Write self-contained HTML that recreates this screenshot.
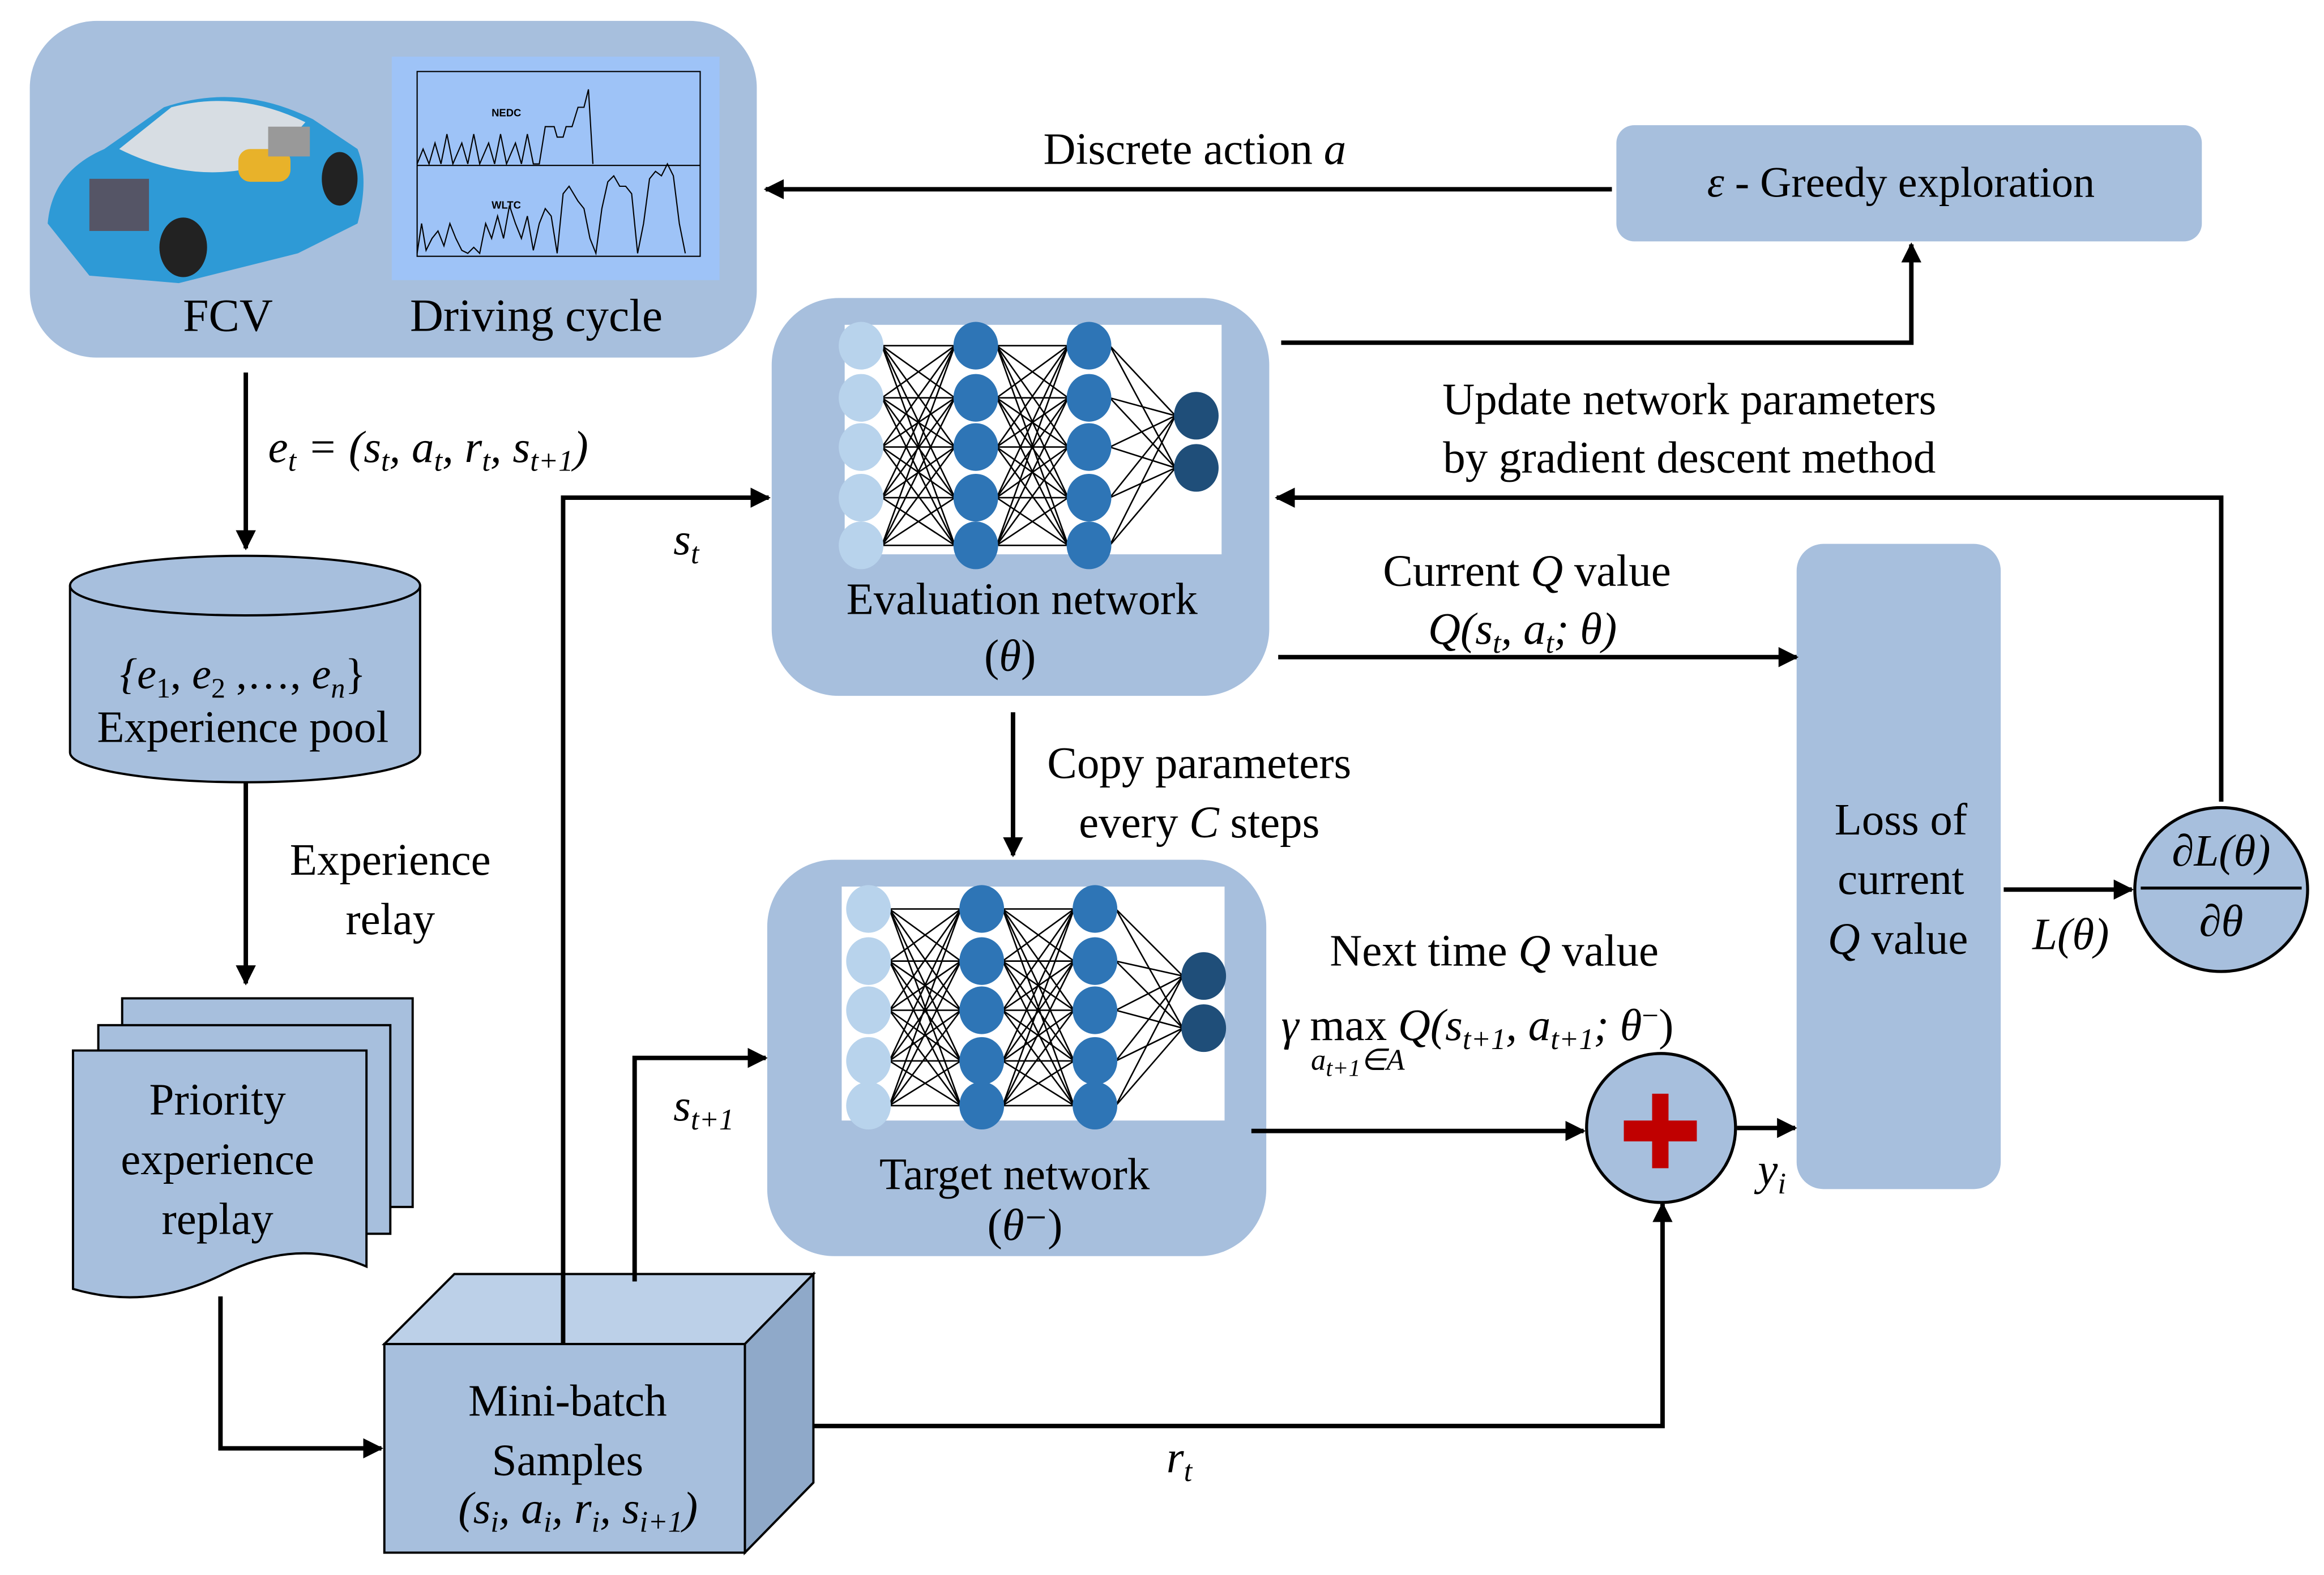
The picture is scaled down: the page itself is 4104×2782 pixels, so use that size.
<!DOCTYPE html>
<html><head><meta charset="utf-8">
<style>
html,body{margin:0;padding:0;background:#fff;}
svg{display:block;}
text{font-family:"Liberation Serif",serif;fill:#000;}
</style></head>
<body>
<svg id="s" width="4104" height="2782" viewBox="0 0 1560 1057" preserveAspectRatio="none" xmlns="http://www.w3.org/2000/svg">
<defs>
<marker id="ah" viewBox="0 0 10 10" refX="9" refY="5" markerWidth="4.5" markerHeight="4.5" orient="auto"><path d="M0,0 L10,5 L0,10 z" fill="#000"/></marker>
</defs>
<g fill="#a7bfdd">
<!-- FCV box -->
<rect x="20" y="14" width="488" height="226" rx="45"/>
<rect x="1085" y="84" width="393" height="78" rx="12"/>
<rect x="518" y="200" width="334" height="267" rx="45"/>
<rect x="515" y="577" width="335" height="266" rx="45"/>
<rect x="1206" y="365" width="137" height="433" rx="18"/>
</g>
<!-- chart -->
<rect x="263" y="38" width="220" height="150" fill="#9ec3f7"/>
<rect x="280" y="48" width="190" height="124" fill="none" stroke="#000" stroke-width="0.8"/>
<line x1="280" y1="111" x2="470" y2="111" stroke="#000" stroke-width="0.8"/>
<polyline fill="none" stroke="#000" stroke-width="0.8" points="280,110 284,100 288,110 292,96 296,110 300,90 304,110 310,96 314,110 318,90 322,110 328,96 332,110 336,90 340,110 346,96 350,110 354,90 358,110 362,110 366,85 372,85 374,92 378,92 380,85 384,85 388,72 392,72 395,60 398,110"/>
<polyline fill="none" stroke="#000" stroke-width="0.8" points="280,170 283,150 286,168 290,160 294,155 298,165 302,150 306,160 310,168 314,170 318,166 322,170 326,150 330,160 334,145 338,160 342,138 346,150 350,160 354,145 358,168 362,150 366,140 370,145 374,170 378,130 382,125 388,135 392,140 396,160 400,170 404,140 408,122 412,118 416,125 420,125 424,130 428,170 432,150 436,120 440,115 444,118 448,110 452,118 456,150 460,170"/>
<text x="330" y="78" font-size="7" style="font-family:'Liberation Sans',sans-serif;font-weight:bold">NEDC</text>
<text x="330" y="140" font-size="7" style="font-family:'Liberation Sans',sans-serif;font-weight:bold">WLTC</text>
<!-- car -->
<g>
<path d="M32,150 Q35,115 70,100 L110,72 Q160,55 210,80 L240,100 Q248,120 240,150 L200,170 L120,190 L60,185 Z" fill="#2e9ad6"/>
<path d="M80,100 L115,72 Q160,60 205,82 L180,110 Q130,125 80,100 Z" fill="#d7dde3"/>
<ellipse cx="123" cy="166" rx="16" ry="20" fill="#222"/>
<ellipse cx="228" cy="120" rx="12" ry="18" fill="#222"/>
<rect x="60" y="120" width="40" height="35" fill="#556" />
<rect x="160" y="100" width="35" height="22" fill="#e8b22a" rx="8"/>
<rect x="180" y="85" width="28" height="20" fill="#999"/>
</g>
<text x="153" y="222" font-size="31" text-anchor="middle">FCV</text>
<text x="360" y="222" font-size="31" text-anchor="middle">Driving cycle</text>
<text x="1276" y="132" font-size="29" text-anchor="middle"><tspan font-style="italic">ε</tspan> - Greedy exploration</text>

<!-- networks -->
<rect x="567" y="218" width="253" height="154" fill="#fff"/>
<rect x="565" y="595" width="257" height="157" fill="#fff"/>
<g id="net1"></g><g id="net2"></g>

<text x="686" y="412" font-size="30" text-anchor="middle">Evaluation network</text>
<text x="678" y="450" font-size="30" text-anchor="middle">(<tspan font-style="italic">θ</tspan>)</text>
<text x="681" y="798" font-size="30" text-anchor="middle">Target network</text>
<text x="688" y="832" font-size="30" text-anchor="middle">(<tspan font-style="italic">θ</tspan>⁻)</text>

<!-- connectors -->
<g stroke="#000" stroke-width="3" fill="none">
<line x1="1082" y1="127" x2="514" y2="127" marker-end="url(#ah)"/>
<polyline points="860,230 1283,230 1283,164" marker-end="url(#ah)"/>
<polyline points="1491,538 1491,334 857,334" marker-end="url(#ah)"/>
<line x1="858" y1="441" x2="1206" y2="441" marker-end="url(#ah)"/>
<line x1="1345" y1="597" x2="1431" y2="597" marker-end="url(#ah)"/>
<line x1="680" y1="478" x2="680" y2="574" marker-end="url(#ah)"/>
<line x1="840" y1="759" x2="1063" y2="759" marker-end="url(#ah)"/>
<line x1="1166" y1="757" x2="1205" y2="757" marker-end="url(#ah)"/>
<polyline points="378,898 378,334 516,334" marker-end="url(#ah)"/>
<polyline points="426,855 426,710 514,710" marker-end="url(#ah)"/>
<polyline points="525,957 1116,957 1116,808" marker-end="url(#ah)"/>
<line x1="165" y1="250" x2="165" y2="368" marker-end="url(#ah)"/>
<line x1="165" y1="525" x2="165" y2="660" marker-end="url(#ah)"/>
<polyline points="148,870 148,972 256,972" marker-end="url(#ah)"/>
</g>

<!-- circles -->
<ellipse cx="1491" cy="597" rx="58" ry="55" fill="#a7bfdd" stroke="#000" stroke-width="2"/>
<line x1="1437" y1="596" x2="1545" y2="596" stroke="#000" stroke-width="2"/>
<text x="1491" y="581" font-size="30" text-anchor="middle" font-style="italic">∂L(θ)</text>
<text x="1491" y="628" font-size="30" text-anchor="middle" font-style="italic">∂θ</text>
<ellipse cx="1115" cy="757" rx="50" ry="50" fill="#a7bfdd" stroke="#000" stroke-width="2"/>
<rect x="1109" y="734" width="11" height="50" fill="#c00000"/>
<rect x="1090" y="752" width="49" height="14" fill="#c00000"/>

<!-- cylinder -->
<path d="M47,393 L47,505 A117.5,20 0 0 0 282,505 L282,393" fill="#a7bfdd" stroke="#000" stroke-width="1.5"/>
<ellipse cx="164.5" cy="393" rx="117.5" ry="20" fill="#a7bfdd" stroke="#000" stroke-width="1.5"/>
<text x="163" y="462" font-size="29" text-anchor="middle"><tspan font-style="italic">{e</tspan><tspan font-size="19" dy="6">1</tspan><tspan dy="-6">, </tspan><tspan font-style="italic">e</tspan><tspan font-size="19" dy="6">2</tspan><tspan dy="-6"> ,…, </tspan><tspan font-style="italic">e</tspan><tspan font-size="19" dy="6" font-style="italic">n</tspan><tspan dy="-6">}</tspan></text>
<text x="163" y="498" font-size="30" text-anchor="middle">Experience pool</text>

<!-- priority docs -->
<g fill="#a7bfdd" stroke="#000" stroke-width="1.5">
<rect x="82" y="670" width="195" height="140"/>
<rect x="66" y="688" width="196" height="140"/>
<path d="M49,705 L246,705 L246,850 Q200,830 150,855 Q100,880 49,865 Z"/>
</g>
<text x="146" y="748" font-size="30" text-anchor="middle">Priority</text>
<text x="146" y="788" font-size="30" text-anchor="middle">experience</text>
<text x="146" y="828" font-size="30" text-anchor="middle">replay</text>

<!-- cube -->
<g stroke="#000" stroke-width="1.5">
<path d="M258,902 L305,855 L546,855 L500,902 Z" fill="#bcd0e8"/>
<path d="M500,902 L546,855 L546,995 L500,1042 Z" fill="#8fa9c9"/>
<rect x="258" y="902" width="242" height="140" fill="#a7bfdd"/>
</g>
<line x1="378" y1="855" x2="378" y2="902" stroke="#000" stroke-width="3"/>
<line x1="426" y1="855" x2="426" y2="860" stroke="#000" stroke-width="3"/>
<text x="381" y="950" font-size="30" text-anchor="middle">Mini-batch</text>
<text x="381" y="990" font-size="30" text-anchor="middle">Samples</text>
<text x="388" y="1022" font-size="30" text-anchor="middle" font-style="italic">(s<tspan font-size="20" dy="6">i</tspan><tspan dy="-6">, a</tspan><tspan font-size="20" dy="6">i</tspan><tspan dy="-6">, r</tspan><tspan font-size="20" dy="6">i</tspan><tspan dy="-6">, s</tspan><tspan font-size="20" dy="6">i+1</tspan><tspan dy="-6">)</tspan></text>

<text x="1276" y="560" font-size="30" text-anchor="middle">Loss of</text>
<text x="1276" y="600" font-size="30" text-anchor="middle">current</text>
<text x="1274" y="640" font-size="30" text-anchor="middle"><tspan font-style="italic">Q</tspan> value</text>

<!-- labels -->
<text x="802" y="110" font-size="30" text-anchor="middle">Discrete action <tspan font-style="italic">a</tspan></text>
<text x="1134" y="278" font-size="30" text-anchor="middle">Update network parameters</text>
<text x="1134" y="317" font-size="30" text-anchor="middle">by gradient descent method</text>
<text x="1025" y="393" font-size="30" text-anchor="middle">Current <tspan font-style="italic">Q</tspan> value</text>
<text x="1022" y="432" font-size="30" text-anchor="middle" font-style="italic">Q(s<tspan font-size="20" dy="6">t</tspan><tspan dy="-6">, a</tspan><tspan font-size="20" dy="6">t</tspan><tspan dy="-6">; θ)</tspan></text>
<text x="805" y="522" font-size="30" text-anchor="middle">Copy parameters</text>
<text x="805" y="562" font-size="30" text-anchor="middle">every <tspan font-style="italic">C</tspan> steps</text>
<text x="1003" y="648" font-size="30" text-anchor="middle">Next time <tspan font-style="italic">Q</tspan> value</text>
<text x="860" y="698" font-size="30"><tspan font-style="italic">γ</tspan> max <tspan font-style="italic">Q(s</tspan><tspan font-size="20" dy="6" font-style="italic">t+1</tspan><tspan dy="-6" font-style="italic">, a</tspan><tspan font-size="20" dy="6" font-style="italic">t+1</tspan><tspan dy="-6" font-style="italic">; θ</tspan><tspan font-size="20" dy="-10">−</tspan><tspan dy="10">)</tspan></text>
<text x="880" y="718" font-size="20" font-style="italic">a<tspan font-size="16" dy="4">t+1</tspan><tspan dy="-4">∈A</tspan></text>
<text x="1390" y="637" font-size="30" text-anchor="middle" font-style="italic">L(θ)</text>
<text x="1180" y="795" font-size="30" font-style="italic">y<tspan font-size="20" dy="6">i</tspan></text>
<text x="180" y="310" font-size="30" font-style="italic">e<tspan font-size="20" dy="6">t</tspan><tspan dy="-6"> = (s</tspan><tspan font-size="20" dy="6">t</tspan><tspan dy="-6">, a</tspan><tspan font-size="20" dy="6">t</tspan><tspan dy="-6">, r</tspan><tspan font-size="20" dy="6">t</tspan><tspan dy="-6">, s</tspan><tspan font-size="20" dy="6">t+1</tspan><tspan dy="-6">)</tspan></text>
<text x="262" y="587" font-size="30" text-anchor="middle">Experience</text>
<text x="262" y="627" font-size="30" text-anchor="middle">relay</text>
<text x="452" y="372" font-size="30" font-style="italic">s<tspan font-size="20" dy="6">t</tspan></text>
<text x="452" y="752" font-size="30" font-style="italic">s<tspan font-size="20" dy="6">t+1</tspan></text>
<text x="783" y="988" font-size="30" font-style="italic">r<tspan font-size="20" dy="6">t</tspan></text>
</svg>
<script>
(function(){
var NS="http://www.w3.org/2000/svg";
function net(id,x0,ys,xs,outY){
 var g=document.getElementById(id),h="";
 var L=[xs[0],xs[1],xs[2]];
 for(var k=0;k<2;k++){for(var i=0;i<5;i++)for(var j=0;j<5;j++){h+='<line x1="'+(L[k]+14)+'" y1="'+ys[i]+'" x2="'+(L[k+1]-14)+'" y2="'+ys[j]+'" stroke="#000" stroke-width="1"/>';}}
 for(var i=0;i<5;i++)for(var j=0;j<2;j++){h+='<line x1="'+(xs[2]+14)+'" y1="'+ys[i]+'" x2="'+(xs[3]-14)+'" y2="'+outY[j]+'" stroke="#000" stroke-width="1"/>';}
 var c=["#b8d3ec","#2e75b6","#2e75b6"];
 for(var k=0;k<3;k++)for(var i=0;i<5;i++)h+='<ellipse cx="'+xs[k]+'" cy="'+ys[i]+'" rx="15" ry="16" fill="'+c[k]+'"/>';
 for(var j=0;j<2;j++)h+='<ellipse cx="'+xs[3]+'" cy="'+outY[j]+'" rx="15" ry="16" fill="#1f4e79"/>';
 g.innerHTML=h;
}
net("net1",0,[232,267,300,334,366],[578,655,731,803],[279,314]);
net("net2",0,[610,645,678,712,742],[583,659,735,808],[655,690]);
})();
</script>
</body></html>
